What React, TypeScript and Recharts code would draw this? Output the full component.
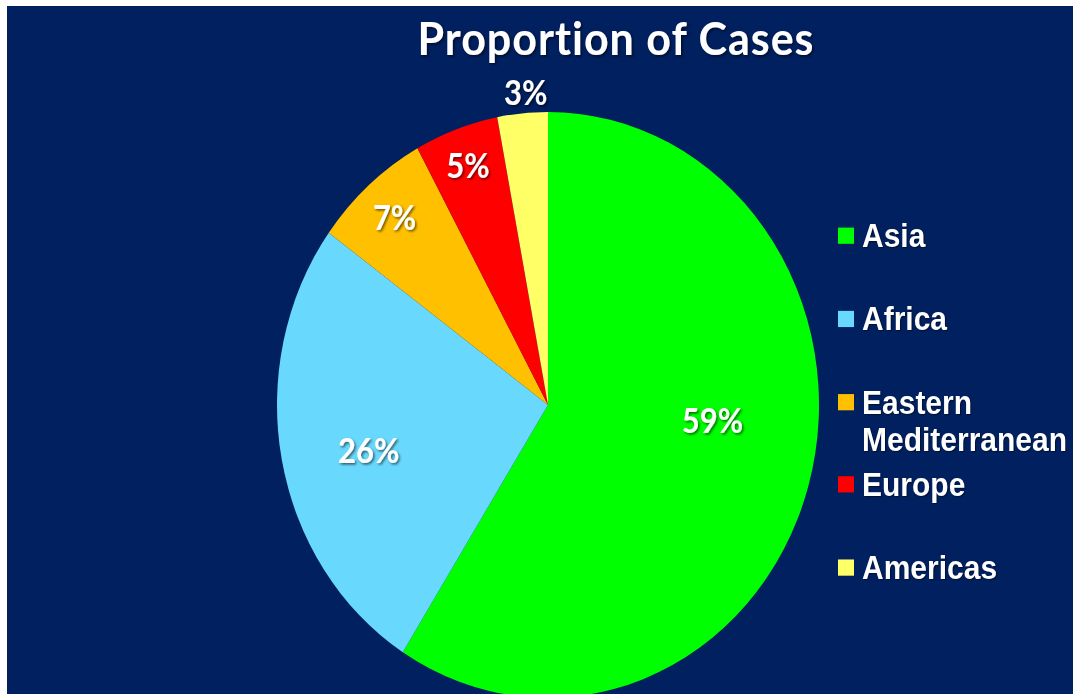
import React from 'react'
import { PieChart, Pie, Cell, Legend, Customized } from 'recharts'

// chart data
const REGIONS = ['Asia', 'Africa', 'Eastern Mediterranean', 'Europe', 'Americas']
const SHARES = [59, 26, 7, 5, 3]
const SLICE_COLORS = ['#00FF00', '#69D8FD', '#FFC000', '#FF0000', '#FFFF66']

const data = REGIONS.map((name, i) => ({ name, value: SHARES[i] }))

const BG = '#002060'
const W = 1066
const H = 637
// the slide is stretched vertically a little, so the pie reads as an ellipse
const STRETCH = 1.081

// where each percentage label sits: angle shift from the slice middle + distance from centre
const LABEL_SPOTS = [
  { shift: 11.4, r: 165 },
  { shift: 2.2, r: 184 },
  { shift: 0, r: 232 },
  { shift: 0, r: 236 },
  { shift: -1, r: 290 },
]

const RAD = Math.PI / 180

const renderLabel = (props: any) => {
  const { cx, cy, midAngle, index, value } = props
  const spot = LABEL_SPOTS[index] || { shift: 0, r: 180 }
  const a = (midAngle + spot.shift) * RAD
  const x = cx + spot.r * Math.cos(a)
  const y = cy - spot.r * Math.sin(a)
  return (
    <text
      x={x}
      y={y}
      fill="#fff"
      textAnchor="middle"
      dominantBaseline="central"
      fontFamily="Lato, sans-serif"
      fontWeight={700}
      fontSize={31}
      filter="url(#txtShadow)"
    >
      {`${value}%`}
    </text>
  )
}

const Title = () => (
  <g>
    <defs>
      <filter id="txtShadow" x="-20%" y="-20%" width="140%" height="140%">
        <feDropShadow dx="1.5" dy="1.5" stdDeviation="1" floodColor="#000" floodOpacity="0.55" />
      </filter>
    </defs>
    <text
      x={609}
      y={45}
      fill="#fff"
      textAnchor="middle"
      fontFamily="Lato, sans-serif"
      fontWeight={700}
      fontSize={43}
      letterSpacing={1}
      filter="url(#txtShadow)"
    >
      Proportion of Cases
    </text>
  </g>
)

const renderLegend = (props: any) => {
  const items = [...(props.payload || [])].sort(
    (a: any, b: any) => REGIONS.indexOf(a.value) - REGIONS.indexOf(b.value)
  )
  return (
    <div style={{ position: 'relative', width: 235, height: 560 }}>
      {items.map((entry: any, i: number) => {
        const idx = REGIONS.indexOf(entry.value)
        return (
          <div
            key={entry.value}
            style={{
              position: 'absolute',
              left: 0,
              top: 195 + i * 76.8,
              display: 'flex',
              alignItems: 'flex-start',
            }}
          >
            <div
              style={{
                width: 16,
                height: 15,
                marginTop: 10,
                background: SLICE_COLORS[idx],
                flexShrink: 0,
              }}
            />
            <div
              style={{
                marginLeft: 8,
                width: 215,
                color: '#fff',
                fontFamily: '"Liberation Sans", Arial, sans-serif',
                fontWeight: 700,
                fontSize: 30,
                lineHeight: '35px',
                textShadow: '1px 1px 1px rgba(0,0,0,0.5)',
              }}
            >
              {entry.value}
            </div>
          </div>
        )
      })}
    </div>
  )
}

export default function App() {
  return (
    <>
      <style>{'html,body{margin:0;padding:0;overflow:hidden;background:#fff}'}</style>
      <div
        style={{
          margin: '6px 0 0 7px',
          width: W,
          height: 688,
          background: BG,
          overflow: 'hidden',
          position: 'relative',
        }}
      >
        <div style={{ width: W, height: H, transform: `scaleY(${STRETCH})`, transformOrigin: 'top left' }}>
          <PieChart width={W} height={H} margin={{ top: 0, right: 0, bottom: 0, left: 0 }}>
            <Customized component={Title} />
            <Pie
              data={data}
              dataKey="value"
              nameKey="name"
              cx={541}
              cy={369}
              outerRadius={271}
              startAngle={90}
              endAngle={-270}
              stroke="none"
              label={renderLabel}
              labelLine={false}
              isAnimationActive={false}
            >
              {data.map((d, i) => (
                <Cell key={d.name} fill={SLICE_COLORS[i]} />
              ))}
            </Pie>
            <Legend
              content={renderLegend}
              wrapperStyle={{ position: 'absolute', left: 831, top: 0, width: 235 }}
            />
          </PieChart>
        </div>
      </div>
    </>
  )
}
